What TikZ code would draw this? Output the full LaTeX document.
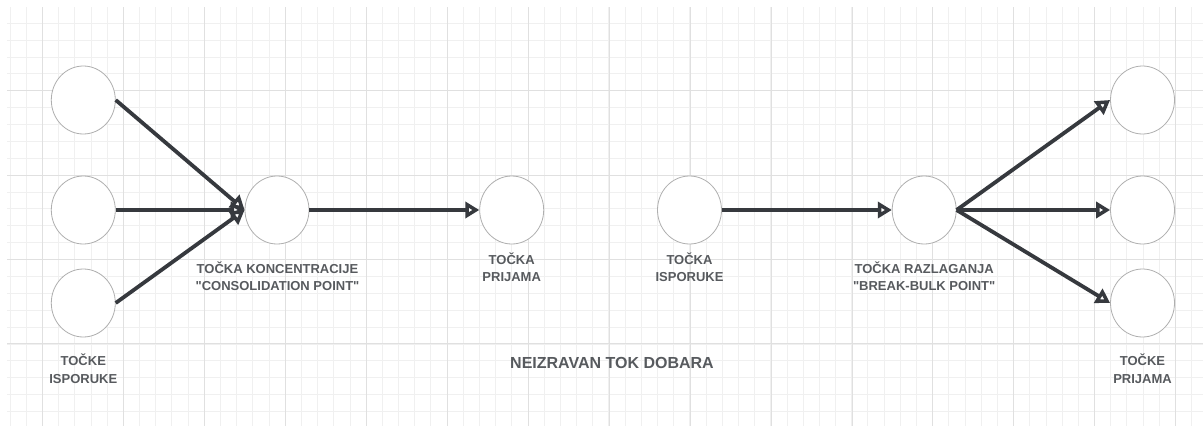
\documentclass[tikz,border=0pt]{standalone}
\usepackage{fontspec}
\setmainfont{Liberation Sans}[Ligatures=TeXOff]
\usetikzlibrary{shapes.geometric,arrows.meta}
\definecolor{gridminor}{HTML}{F0F0F0}
\definecolor{gridmajor}{HTML}{E0E0E0}
\definecolor{ringgray}{HTML}{AFAFAF}
\definecolor{flowdark}{HTML}{36393E}
\definecolor{labelgray}{HTML}{575A5E}
\tikzset{
  pt/.style={ellipse, draw=ringgray, line width=0.8pt, fill=white, minimum width=64pt, minimum height=68pt, inner sep=0pt},
  flow/.style={draw=flowdark, line width=3.8pt, -{Triangle[open, length=14pt, width=16pt, fill=white]}},
  lbl/.style={text=labelgray, font=\bfseries\fontsize{13}{17.5}\selectfont, align=center, inner sep=0pt},
  ttl/.style={text=labelgray, font=\bfseries\fontsize{16}{20}\selectfont, inner sep=0pt}
}
\begin{document}
\begin{tikzpicture}[x=1pt, y=-1pt]
\useasboundingbox (0,0) rectangle (1203,426);
\fill[white] (0,0) rectangle (1203,426);
% grid
\foreach \i in {0,...,73} {
  \draw[gridminor, line width=0.8pt] ({10+16.186*\i},7) -- ({10+16.186*\i},426);
}
\foreach \j in {1,...,24} {
  \draw[gridminor, line width=0.8pt] (7,{6.3+16.88*\j}) -- (1203,{6.3+16.88*\j});
}
\foreach \i in {0,...,14} {
  \draw[gridmajor, line width=0.9pt] ({42.7+80.93*\i},7) -- ({42.7+80.93*\i},426);
}
\foreach \j in {1,...,4} {
  \draw[gridmajor, line width=0.9pt] (7,{6.3+84.4*\j}) -- (1203,{6.3+84.4*\j});
}
% nodes
\node[pt] (s1) at (83.3,100) {};
\node[pt] (s2) at (83.3,210) {};
\node[pt] (s3) at (83.3,303) {};
\node[pt] (cp) at (277,210) {};
\node[pt] (rp) at (511.7,210) {};
\node[pt] (dp) at (689.5,210) {};
\node[pt] (bb) at (924.2,210) {};
\node[pt] (r1) at (1142.5,100) {};
\node[pt] (r2) at (1142.5,210) {};
\node[pt] (r3) at (1142.5,303) {};
% connectors
\draw[flow] (s1.east) -- (cp.west);
\draw[flow] (s2.east) -- (cp.west);
\draw[flow] (s3.east) -- (cp.west);
\draw[flow] (cp.east) -- (rp.west);
\draw[flow] (dp.east) -- (bb.west);
\draw[flow] (bb.east) -- (r1.west);
\draw[flow] (bb.east) -- (r2.west);
\draw[flow] (bb.east) -- (r3.west);
% labels
\node[lbl] (l1) at (83.3,368.5) {TOČKE\\ISPORUKE};
\node[lbl] (l2) at (277.5,276) {TOČKA KONCENTRACIJE\\"CONSOLIDATION POINT"};
\node[lbl] (l3) at (511.7,267) {TOČKA\\PRIJAMA};
\node[lbl] (l4) at (689.5,267) {TOČKA\\ISPORUKE};
\node[lbl] (l5) at (924.2,276) {TOČKA RAZLAGANJA\\"BREAK-BULK POINT"};
\node[lbl] (l6) at (1142.5,368.7) {TOČKE\\PRIJAMA};
\node[ttl] (t) at (612,363) {NEIZRAVAN TOK DOBARA};
\end{tikzpicture}
\end{document}
